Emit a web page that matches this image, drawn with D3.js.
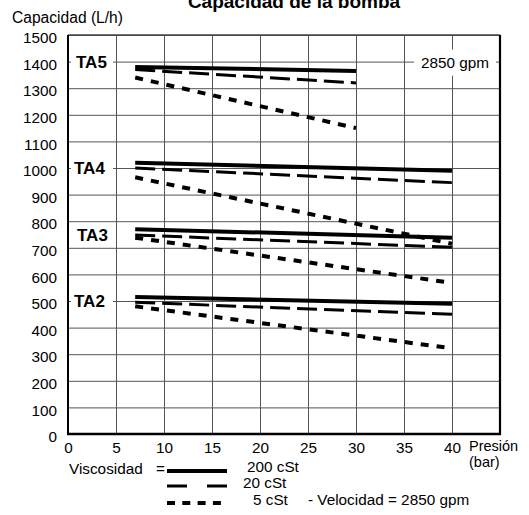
<!DOCTYPE html>
<html><head><meta charset="utf-8">
<script src="https://cdn.jsdelivr.net/npm/d3@7/dist/d3.min.js"></script>
<style>
html,body{margin:0;padding:0;background:#fff;}
svg{display:block;font-family:"Liberation Sans",Arial,Helvetica,sans-serif;}
</style></head>
<body>
<svg id="chart" width="529" height="515"></svg>
<script>
// ---- Data ----
const pumps = ["TA2", "TA3", "TA4", "TA5"];
const pressureStart = [7, 7, 7, 7];
const pressureEnd = [40, 40, 40, 30];
const cap200cSt = [[515, 490], [770, 738], [1020, 990], [1380, 1365]];
const cap20cSt = [[495, 450], [748, 702], [1000, 945], [1370, 1320]];
const cap5cSt = [[480, 322], [738, 568], [965, 715], [1340, 1150]];
const pumpLabelValues = [500, 750, 1000, 1400];
const xTicks = [0, 5, 10, 15, 20, 25, 30, 35, 40];
const yTicks = [0, 100, 200, 300, 400, 500, 600, 700, 800, 900, 1000, 1100, 1200, 1300, 1400, 1500];
const viscosityLabels = ["200 cSt", "20 cSt", "5 cSt"];

// ---- Layout ----
const svg = d3.select("#chart");
const mLeft = 68, mRight = 500, mTop = 35, mBottom = 434;
const x = d3.scaleLinear().domain([0, 45]).range([mLeft, mRight]);
const y = d3.scaleLinear().domain([0, 1500]).range([mBottom, mTop]);
const FS = 15.3;

const styles = [
  {w: 4, dash: null},
  {w: 3, dash: "20,7"},
  {w: 4, dash: "8,8"}
];

// grid via axes
const gx = svg.append("g").attr("transform", `translate(0,${mBottom})`)
  .call(d3.axisBottom(x).tickValues(xTicks).tickSize(-(mBottom - mTop)).tickPadding(8).tickFormat(d3.format("d")));
gx.select(".domain").remove();
gx.selectAll(".tick line").attr("stroke", "#555").attr("stroke-width", 1);
gx.selectAll(".tick text").attr("font-size", FS).attr("fill", "#000").attr("font-family", "Liberation Sans, Arial, sans-serif");

const gy = svg.append("g").attr("transform", `translate(${mLeft},0)`)
  .call(d3.axisLeft(y).tickValues(yTicks).tickSize(-(mRight - mLeft)).tickPadding(11).tickFormat(d3.format("d")));
gy.select(".domain").remove();
gy.selectAll(".tick line").attr("stroke", "#555").attr("stroke-width", 1);
gy.selectAll(".tick text").attr("font-size", FS).attr("fill", "#000").attr("dy", "0.5em")
  .attr("font-family", "Liberation Sans, Arial, sans-serif");

// frame
svg.append("line").attr("x1", mLeft).attr("x2", mRight).attr("y1", mTop).attr("y2", mTop).attr("stroke", "#444").attr("stroke-width", 1.5);
svg.append("line").attr("x1", mLeft).attr("x2", mLeft).attr("y1", mTop).attr("y2", mBottom + 1).attr("stroke", "#000").attr("stroke-width", 2);
svg.append("line").attr("x1", mRight).attr("x2", mRight).attr("y1", mTop).attr("y2", mBottom + 1).attr("stroke", "#000").attr("stroke-width", 2.2);
svg.append("line").attr("x1", mLeft - 1).attr("x2", mRight + 1).attr("y1", mBottom).attr("y2", mBottom).attr("stroke", "#000").attr("stroke-width", 2.5);

// label boxes (white backgrounds)
const labelOffsets = [0, 3, 0, 2];
pumps.forEach((p, i) => {
  const yy = y(pumpLabelValues[i]);
  svg.append("rect").attr("x", mLeft + 3).attr("y", yy - 9).attr("width", 42).attr("height", 18).attr("fill", "#fff");
  svg.append("text").attr("x", mLeft + 6 + labelOffsets[i]).attr("y", yy + 6)
    .attr("font-size", 17).attr("font-weight", "bold").text(p);
});
// 2850 gpm label
svg.append("rect").attr("x", 414).attr("y", y(1400) - 12).attr("width", 82).attr("height", 26).attr("fill", "#fff");
svg.append("text").attr("x", 455).attr("y", y(1400) + 6).attr("text-anchor", "middle").attr("font-size", FS).text("2850 gpm");

// curves
const line = d3.line().x(d => x(d[0])).y(d => y(d[1]));
const series = [cap200cSt, cap20cSt, cap5cSt];
series.forEach((s, k) => {
  pumps.forEach((p, i) => {
    const pts = [[pressureStart[i], s[i][0]], [pressureEnd[i], s[i][1]]];
    const path = svg.append("path").attr("d", line(pts)).attr("fill", "none")
      .attr("stroke", "#000").attr("stroke-width", styles[k].w);
    if (styles[k].dash) path.attr("stroke-dasharray", styles[k].dash);
  });
});

// titles
svg.append("text").attr("x", 294).attr("y", 8).attr("text-anchor", "middle")
  .attr("font-size", 19).attr("font-weight", "bold").text("Capacidad de la bomba");
svg.append("text").attr("x", 12).attr("y", 23).attr("font-size", FS + 0.3).text("Capacidad (L/h)");
svg.append("text").attr("x", 469).attr("y", 451).attr("font-size", 14.5).text("Presión");
svg.append("text").attr("x", 469).attr("y", 467).attr("font-size", 14.5).text("(bar)");

// legend
svg.append("text").attr("x", 69).attr("y", 474).attr("font-size", FS).text("Viscosidad");
svg.append("text").attr("x", 156).attr("y", 474).attr("font-size", FS).text("=");
const legY = [471, 486, 503];
const legTextX = [247, 243, 253];
const legTextY = [472, 488, 505];
const lx = d3.scaleLinear().domain([0, 1]).range([167, 227]);
series.forEach((s, k) => {
  const path = svg.append("path").attr("d", d3.line()([[lx(0), legY[k]], [lx(1), legY[k]]]))
    .attr("stroke", "#000").attr("stroke-width", styles[k].w).attr("fill", "none");
  if (k === 1) path.attr("stroke-dasharray", "20,20");
  if (k === 2) path.attr("stroke-dasharray", "8,7.3");
  svg.append("text").attr("x", legTextX[k]).attr("y", legTextY[k]).attr("font-size", FS).text(viscosityLabels[k]);
});
svg.append("text").attr("x", 308).attr("y", 505).attr("font-size", FS).text("- Velocidad = 2850 gpm");
</script>
</body></html>
